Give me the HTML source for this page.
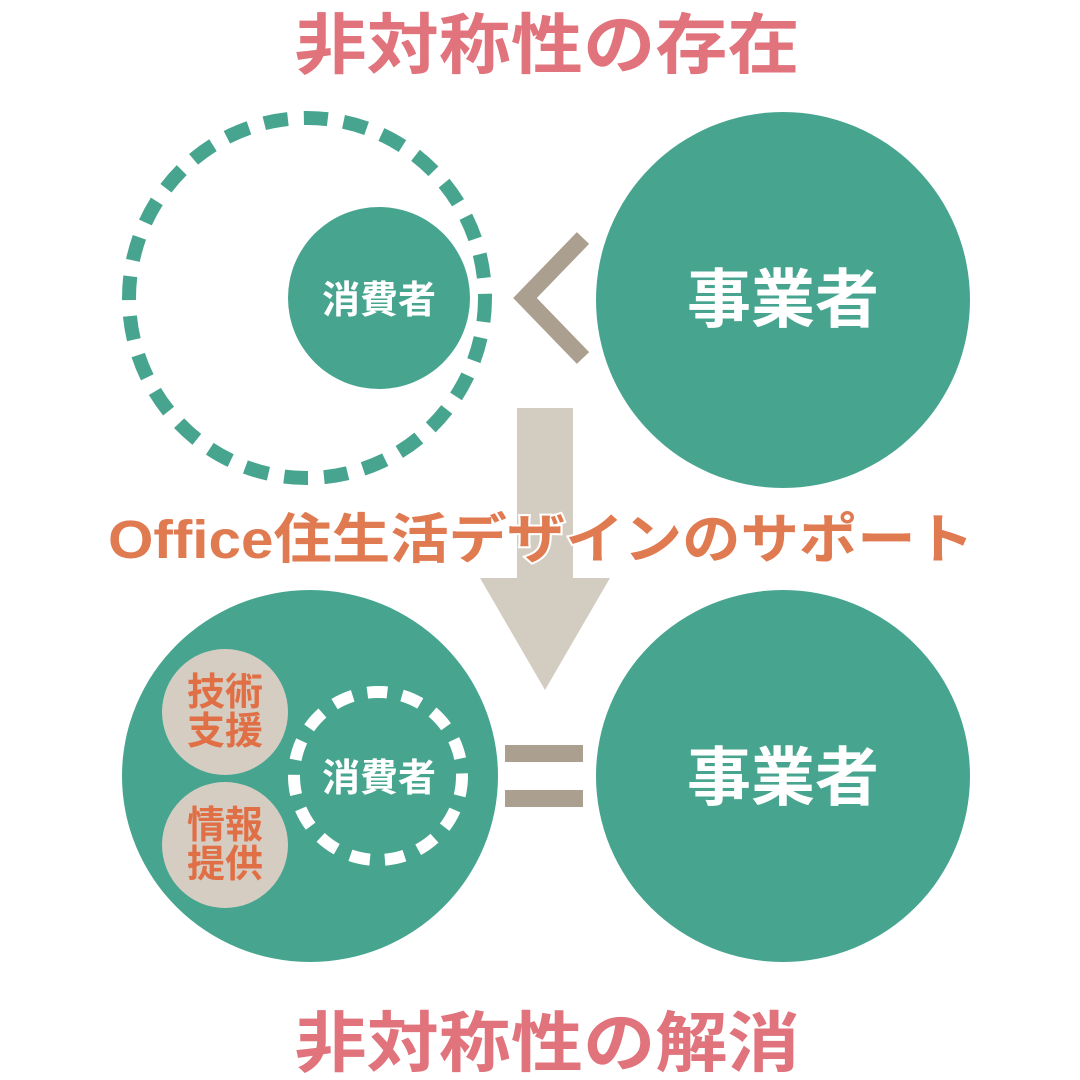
<!DOCTYPE html>
<html><head><meta charset="utf-8"><style>
html,body{margin:0;padding:0;background:#fff;}
svg{display:block;}
text{font-family:"Liberation Sans","Noto Sans CJK JP",sans-serif;font-weight:bold;}
</style></head><body>
<svg width="1080" height="1080" viewBox="0 0 1080 1080" xmlns="http://www.w3.org/2000/svg">
<rect width="1080" height="1080" fill="#fff"/>
<text x="547" y="68" text-anchor="middle" font-size="66" fill="#e0737b" textLength="505" lengthAdjust="spacingAndGlyphs">非対称性の存在</text>
<ellipse cx="307" cy="298" rx="178" ry="180" fill="none" stroke="#47a58f" stroke-width="14" stroke-dasharray="24 16"/>
<circle cx="379" cy="298" r="91" fill="#47a58f"/>
<text x="379" y="313" text-anchor="middle" font-size="38" fill="#fff">消費者</text>
<polyline points="583,238 525,298 583,358" fill="none" stroke="#ab9f90" stroke-width="17"/>
<ellipse cx="783" cy="300" rx="187" ry="188" fill="#47a58f"/>
<text x="783" y="322" text-anchor="middle" font-size="64" fill="#fff">事業者</text>
<rect x="517" y="408" width="56" height="175" fill="#d3ccc1"/>
<polygon points="480,578 610,578 545,690" fill="#d3ccc1"/>
<text x="541" y="558" text-anchor="middle" font-size="54" fill="#e07a50" stroke="#fff" stroke-width="4" paint-order="stroke" textLength="866" lengthAdjust="spacingAndGlyphs">Office住生活デザインのサポート</text>
<ellipse cx="310" cy="776" rx="188" ry="186" fill="#47a58f"/>
<circle cx="225" cy="712" r="63" fill="#d6cdc2"/>
<circle cx="225" cy="845" r="63" fill="#d6cdc2"/>
<text x="225" y="705" text-anchor="middle" font-size="38" fill="#e06f45">技術</text>
<text x="225" y="744" text-anchor="middle" font-size="38" fill="#e06f45">支援</text>
<text x="225" y="838" text-anchor="middle" font-size="38" fill="#e06f45">情報</text>
<text x="225" y="877" text-anchor="middle" font-size="38" fill="#e06f45">提供</text>
<circle cx="378" cy="776" r="84" fill="none" stroke="#fff" stroke-width="12" stroke-dasharray="20 15"/>
<text x="379" y="791" text-anchor="middle" font-size="38" fill="#fff">消費者</text>
<rect x="505" y="745" width="78" height="17" fill="#ab9f90"/>
<rect x="505" y="790" width="78" height="17" fill="#ab9f90"/>
<ellipse cx="783" cy="776" rx="187" ry="186" fill="#47a58f"/>
<text x="783" y="800" text-anchor="middle" font-size="64" fill="#fff">事業者</text>
<text x="547" y="1066" text-anchor="middle" font-size="66" fill="#e0737b" textLength="505" lengthAdjust="spacingAndGlyphs">非対称性の解消</text>
</svg>
</body></html>
